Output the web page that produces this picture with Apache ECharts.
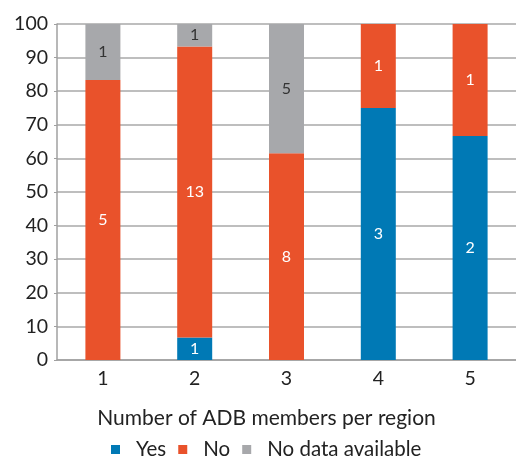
<!DOCTYPE html>
<html><head><meta charset="utf-8">
<script src="https://cdn.jsdelivr.net/npm/echarts@6/dist/echarts.min.js"></script>
<style>html,body{margin:0;padding:0;background:#fff}#c{width:516px;height:458px}</style>
</head><body><div id="c"></div>
<script>
const categories = ['1', '2', '3', '4', '5'];
const yesCounts = [0, 1, 0, 3, 2];
const noCounts = [5, 13, 8, 1, 1];
const naCounts = [1, 1, 5, 0, 0];
const yTicks = [0, 10, 20, 30, 40, 50, 60, 70, 80, 90, 100];

const totals = categories.map((_, i) => yesCounts[i] + noCounts[i] + naCounts[i]);
const pct = (arr) => arr.map((v, i) => ({ value: v / totals[i] * 100, count: v }));

const font = 'Lato';
const lbl = (color) => ({
  show: true, position: 'inside', color: color, fontFamily: font, fontSize: 16,
  formatter: p => p.data.count > 0 ? String(p.data.count) : ''
});

const chart = echarts.init(document.getElementById('c'), null, { renderer: 'canvas' });
chart.setOption({
  animation: false,
  grid: { left: 57, right: 0, top: 24, bottom: 98 },
  xAxis: {
    type: 'category', data: categories,
    axisLine: { lineStyle: { color: '#a0a0a0', width: 1.5 } },
    axisTick: { show: false },
    axisLabel: { color: '#222', fontFamily: font, fontSize: 19.5, margin: 9 },
    name: 'Number of ADB members per region', nameLocation: 'middle', nameGap: 48,
    nameTextStyle: { color: '#222', fontFamily: font, fontSize: 21, padding: [0, 40, 0, 0] }
  },
  yAxis: {
    type: 'value', min: 0, max: 100, interval: 10,
    axisLine: { show: true, lineStyle: { color: '#a0a0a0', width: 1.5 } },
    axisTick: { show: true, length: 3, lineStyle: { color: '#a0a0a0' } },
    axisLabel: { color: '#222', fontFamily: font, fontSize: 19.5, margin: 9,
      formatter: v => yTicks.includes(v) ? String(v) : '' },
    splitLine: { lineStyle: { color: '#a8a8a8', width: 1.5 } }
  },
  legend: {
    top: 434, left: 106, itemWidth: 9, itemHeight: 9, itemGap: 12, icon: 'rect',
    textStyle: { color: '#222', fontFamily: font, fontSize: 20.5, padding: [0, 0, 0, 11] },
    data: ['Yes', 'No', 'No data available']
  },
  series: [
    { name: 'Yes', type: 'bar', stack: 't', barWidth: 35, itemStyle: { color: '#0079B5' }, label: lbl('#fff'), data: pct(yesCounts) },
    { name: 'No', type: 'bar', stack: 't', barWidth: 35, itemStyle: { color: '#E9522B' }, label: lbl('#fff'), data: pct(noCounts) },
    { name: 'No data available', type: 'bar', stack: 't', barWidth: 35, itemStyle: { color: '#A7A8AB' }, label: lbl('#333'), data: pct(naCounts) }
  ]
});
</script></body></html>
